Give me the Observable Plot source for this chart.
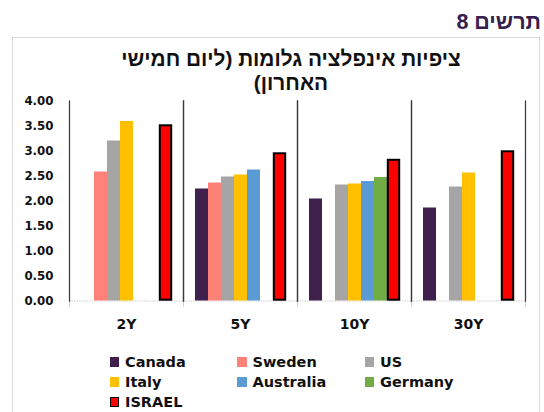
<!DOCTYPE html>
<html>
<head>
<meta charset="utf-8">
<script src="https://cdn.jsdelivr.net/npm/d3@7"></script>
<script src="https://cdn.jsdelivr.net/npm/@observablehq/plot@0.6"></script>
<style>
  html, body { margin: 0; padding: 0; background: #fff; }
  #wrap { position: relative; width: 544px; height: 412px; overflow: hidden; font-family: "DejaVu Sans", sans-serif; font-weight: bold; }
  #header { position: absolute; right: 3px; top: 12px; font-family: "Liberation Sans", Arial, sans-serif; font-size: 21.5px; line-height: 21px; color: #35204D; direction: rtl; white-space: nowrap; }
  #box { position: absolute; left: 12px; top: 37px; width: 528px; height: 420px; border: 1px solid #d9d9d9; box-sizing: border-box; }
  .title { position: absolute; left: 41px; width: 500px; text-align: center; direction: rtl; font-family: "Liberation Sans", Arial, sans-serif; font-size: 20.8px; line-height: 24px; color: #111; white-space: nowrap; }
  #chart { position: absolute; left: 0; top: 90px; }
  .leg { position: absolute; display: flex; align-items: center; font-size: 14.5px; line-height: 14.5px; color: #111; white-space: nowrap; }
  .sw { width: 9.5px; height: 9.5px; margin-right: 6px; box-sizing: border-box; }
</style>
</head>
<body>
<div id="wrap">
  <div id="header"></div>
  <div id="box"></div>
  <div class="title" id="t1" style="top:46.5px"></div>
  <div class="title" id="t2" style="top:70.5px"></div>
  <div id="chart"></div>
  <div id="legend"></div>
</div>
<script>
const headerText = "תרשים 8";
const titleLine1 = "ציפיות אינפלציה גלומות (ליום חמישי";
const titleLine2 = "האחרון)";

const periods = ["2Y", "5Y", "10Y", "30Y"];
const countries = ["Canada", "Sweden", "US", "Italy", "Australia", "Germany", "ISRAEL"];
const colors = ["#40204C", "#FF8279", "#A5A5A5", "#FFC000", "#5B9BD5", "#70AD47", "#FF0000"];
const yTicks = [0, 0.5, 1, 1.5, 2, 2.5, 3, 3.5, 4];

// values per period (2Y, 5Y, 10Y, 30Y); null = no bar
const canada    = [null, 2.24, 2.04, 1.86];
const sweden    = [2.58, 2.36, null, null];
const us        = [3.20, 2.48, 2.32, 2.28];
const italy     = [3.59, 2.52, 2.34, 2.56];
const australia = [null, 2.62, 2.39, null];
const germany   = [null, null, 2.47, null];
const israel    = [3.52, 2.96, 2.83, 3.00];

const series = [canada, sweden, us, italy, australia, germany, israel];
const data = [];
series.forEach((vals, i) => vals.forEach((v, j) => {
  if (v != null) data.push({country: countries[i], period: periods[j], value: v});
}));
const others = data.filter(d => d.country !== "ISRAEL");
const isr = data.filter(d => d.country === "ISRAEL");

document.getElementById("header").textContent = headerText;
document.getElementById("t1").textContent = titleLine1;
document.getElementById("t2").textContent = titleLine2;

const chart = Plot.plot({
  width: 544,
  height: 250,
  marginLeft: 69,
  marginRight: 19,
  marginTop: 10.5,
  marginBottom: 39.5,
  style: {fontFamily: "DejaVu Sans", fontWeight: "bold", fontSize: "11.8px", color: "#111", background: "transparent", overflow: "visible"},
  fx: {domain: periods, padding: 0, axis: null},
  x: {domain: countries, paddingInner: 0, paddingOuter: 0.76, axis: null},
  y: {domain: [0, 4], ticks: yTicks, tickFormat: d3.format(".2f"), label: null, tickSize: 0, tickPadding: 16},
  color: {domain: countries, range: colors},
  marks: [
    Plot.ruleY([0], {stroke: "#cfcfcf", strokeDasharray: "1.5,1"}),
    Plot.frame({anchor: "left", stroke: "#cfcfcf", insetTop: 200, insetBottom: -5}),
    Plot.frame({anchor: "right", stroke: "#cfcfcf", insetTop: 200, insetBottom: -5}),
    Plot.frame({anchor: "left", stroke: "#3a3a3a", strokeWidth: 1.25}),
    Plot.frame({anchor: "right", stroke: "#3a3a3a", strokeWidth: 1.25}),
    Plot.barY(others, {fx: "period", x: "country", y: "value", fill: "country"}),
    Plot.barY(isr, {fx: "period", x: "country", y: "value", fill: "country", stroke: "#000", strokeWidth: 2, inset: 0.8}),
    Plot.text(periods, {fx: d => d, text: d => d, frameAnchor: "bottom", dy: 27.5, fontSize: 14, fill: "#111"})
  ]
});
document.getElementById("chart").appendChild(chart);

// legend
const legendCols = [109.5, 237, 364.5];
const legendRows = [354.5, 374.5, 394.5];
const legend = document.getElementById("legend");
countries.forEach((c, i) => {
  const item = document.createElement("div");
  item.className = "leg";
  item.style.left = legendCols[i % 3] + "px";
  item.style.top = legendRows[Math.floor(i / 3)] + "px";
  const sw = document.createElement("div");
  sw.className = "sw";
  sw.style.background = colors[i];
  if (c === "ISRAEL") sw.style.border = "1.5px solid #000";
  const label = document.createElement("span");
  label.textContent = c;
  item.appendChild(sw);
  item.appendChild(label);
  legend.appendChild(item);
});
</script>
</body>
</html>
